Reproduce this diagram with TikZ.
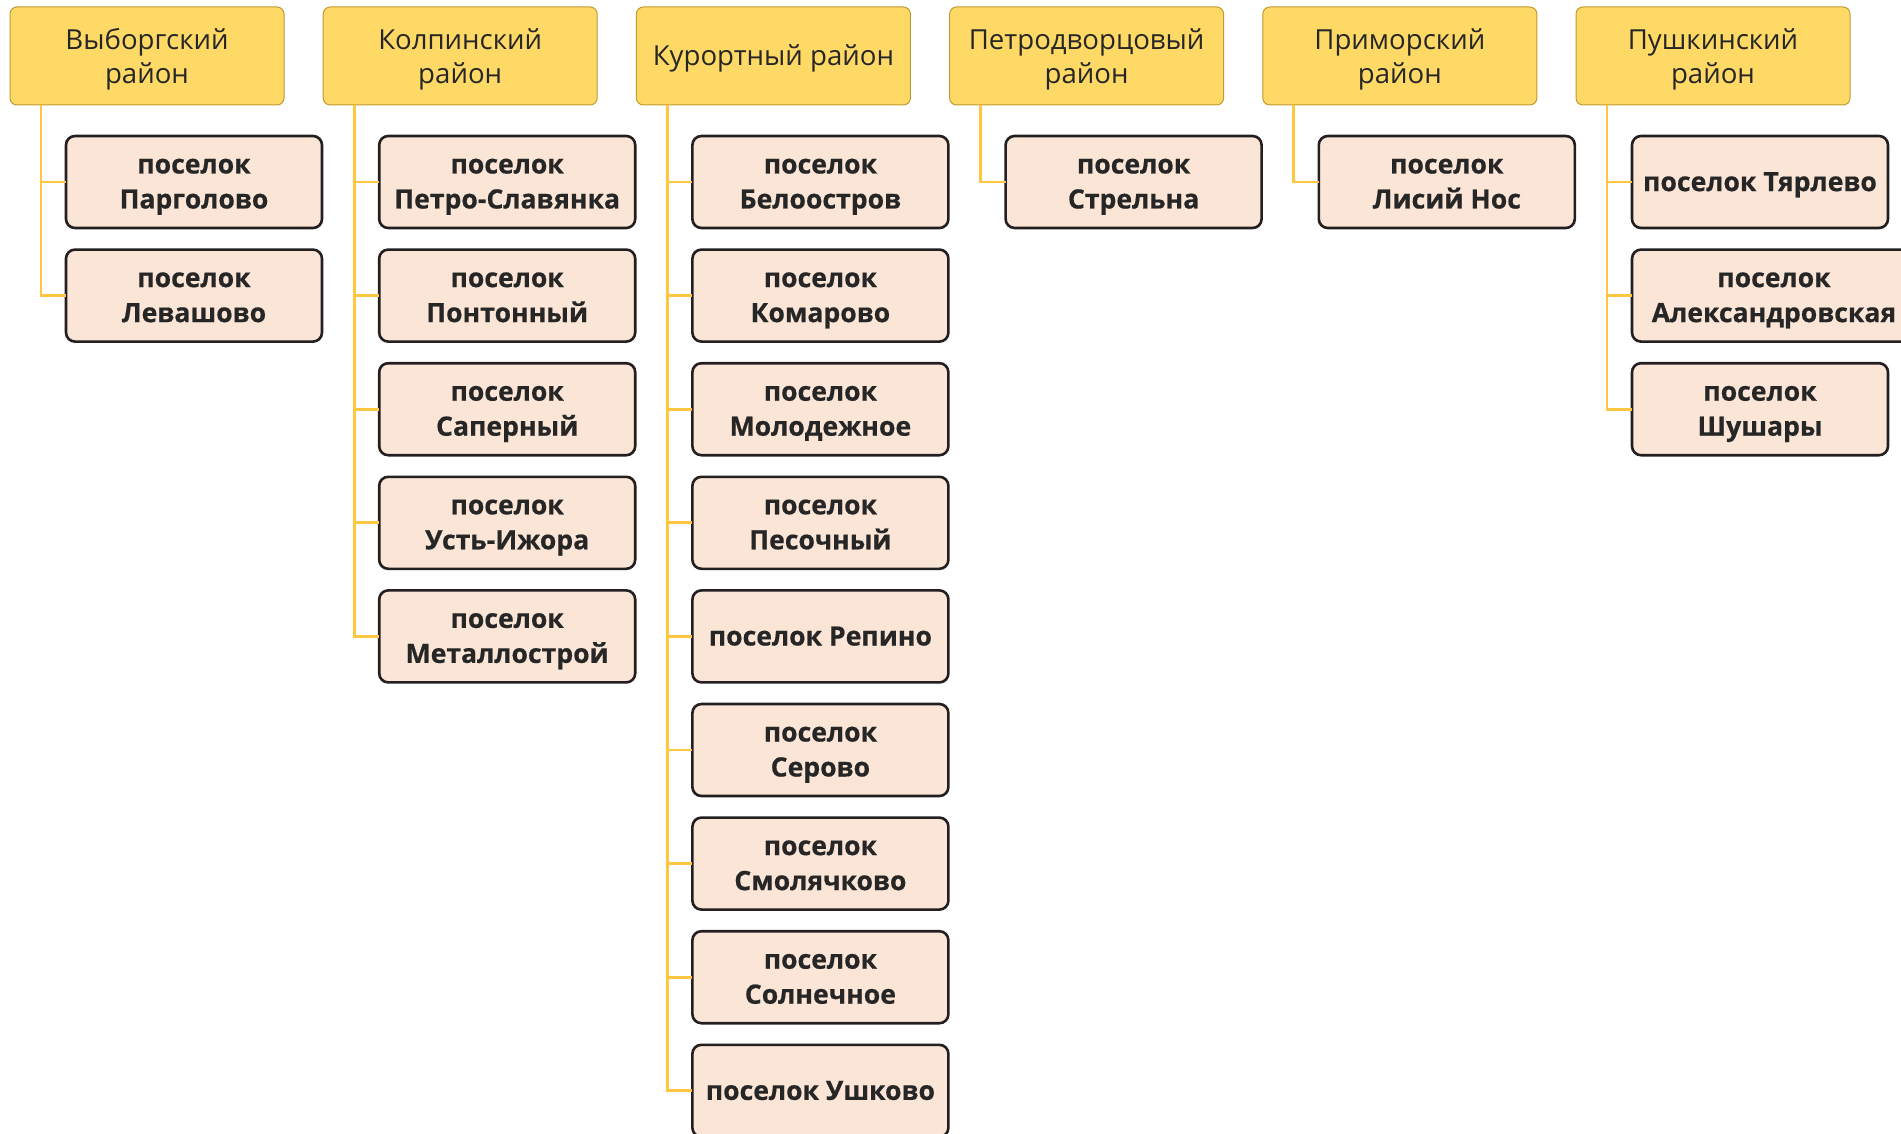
\documentclass[tikz,border=0pt]{standalone}
\usepackage{fontspec}
\setmainfont{Open Sans}[BoldFeatures={FakeBold=0.5}]
\usetikzlibrary{positioning,calc}

\definecolor{hdrfill}{HTML}{FFD966}
\definecolor{hdrline}{HTML}{BF9A2E}
\definecolor{vilfill}{HTML}{FBE5D6}
\definecolor{villine}{HTML}{231F20}
\definecolor{connline}{HTML}{FFC640}

\begin{document}
\begin{tikzpicture}[
    node distance=10.8pt and 19.6pt,
    district/.style={rectangle, draw=hdrline, fill=hdrfill, line width=0.5pt, rounded corners=3.5pt,
      minimum width=137pt, minimum height=49pt, align=center, text=black!85, outer sep=0pt,
      font=\fontsize{13.8}{16.7}\selectfont, text height=30.8pt, text depth=3.5pt},
    village/.style={rectangle, draw=villine, fill=vilfill, line width=1.3pt, rounded corners=4.5pt,
      minimum width=128pt, minimum height=46pt, align=center, text=black!85, outer sep=0pt,
      font=\fontsize{13.3}{17.5}\selectfont\bfseries, text height=30pt, text depth=3.5pt},
    oneline/.style={text height=12.6pt},
    conn/.style={draw=connline, line width=1.4pt}
  ]
  \useasboundingbox (0,0) rectangle (950.5pt,-567pt);

  % districts
  \node[district, anchor=north west] (vyb) at (5pt,-3.5pt) {Выборгский\\район};
  \node[district, right=of vyb] (kol) {Колпинский\\район};
  \node[district, oneline, right=of kol] (kur) {Курортный район};
  \node[district, right=of kur] (ptr) {Петродворцовый\\район};
  \node[district, right=of ptr] (pri) {Приморский\\район};
  \node[district, right=of pri] (pus) {Пушкинский\\район};

  % Выборгский
  \node[village, anchor=north west] (parg) at ($(vyb.south west)+(28pt,-15.5pt)$) {поселок\\Парголово};
  \node[village, below=of parg.south west, anchor=north west] (lev) {поселок\\Левашово};

  % Колпинский
  \node[village, anchor=north west] (psl) at ($(kol.south west)+(28pt,-15.5pt)$) {поселок\\Петро-Славянка};
  \node[village, below=of psl.south west, anchor=north west] (pon) {поселок\\Понтонный};
  \node[village, below=of pon.south west, anchor=north west] (sap) {поселок\\Саперный};
  \node[village, below=of sap.south west, anchor=north west] (uiz) {поселок\\Усть-Ижора};
  \node[village, below=of uiz.south west, anchor=north west] (met) {поселок\\Металлострой};

  % Курортный
  \node[village, anchor=north west] (bel) at ($(kur.south west)+(28pt,-15.5pt)$) {поселок\\Белоостров};
  \node[village, below=of bel.south west, anchor=north west] (kom) {поселок\\Комарово};
  \node[village, below=of kom.south west, anchor=north west] (mol) {поселок\\Молодежное};
  \node[village, below=of mol.south west, anchor=north west] (pes) {поселок\\Песочный};
  \node[village, oneline, below=of pes.south west, anchor=north west] (rep) {поселок Репино};
  \node[village, below=of rep.south west, anchor=north west] (ser) {поселок\\Серово};
  \node[village, below=of ser.south west, anchor=north west] (smo) {поселок\\Смолячково};
  \node[village, below=of smo.south west, anchor=north west] (sol) {поселок\\Солнечное};
  \node[village, oneline, below=of sol.south west, anchor=north west] (ush) {поселок Ушково};

  % Петродворцовый, Приморский
  \node[village, anchor=north west] (str) at ($(ptr.south west)+(28pt,-15.5pt)$) {поселок\\Стрельна};
  \node[village, anchor=north west] (lis) at ($(pri.south west)+(28pt,-15.5pt)$) {поселок\\Лисий Нос};

  % Пушкинский
  \node[village, oneline, anchor=north west] (tya) at ($(pus.south west)+(28pt,-15.5pt)$) {поселок Тярлево};
  \node[village, below=of tya.south west, anchor=north west, minimum width=142pt] (ale) {поселок\\Александровская};
  \node[village, below=of ale.south west, anchor=north west] (shu) {поселок\\Шушары};

  \foreach \d/\v in {vyb/parg, vyb/lev, kol/psl, kol/pon, kol/sap, kol/uiz, kol/met,
      kur/bel, kur/kom, kur/mol, kur/pes, kur/rep, kur/ser, kur/smo, kur/sol, kur/ush,
      ptr/str, pri/lis, pus/tya, pus/ale, pus/shu}
    \draw[conn] ($(\d.south west)+(15.5pt,0)$) |- (\v.west);
\end{tikzpicture}
\end{document}
